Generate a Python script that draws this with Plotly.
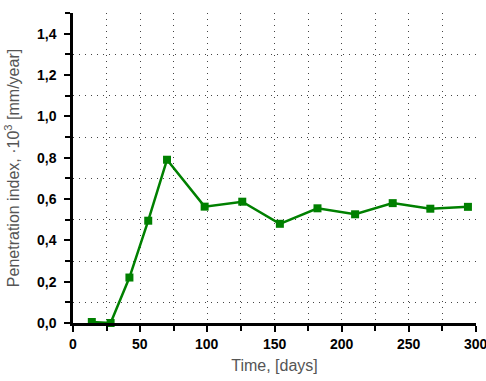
import plotly.graph_objects as go

days = [14, 28, 42, 56, 70, 98, 126, 154, 182, 210, 238, 266, 294]
penetration = [0.005, 0.0, 0.22, 0.495, 0.79, 0.563, 0.587, 0.48, 0.555, 0.526, 0.58, 0.553, 0.562]
x_ticks = [0, 50, 100, 150, 200, 250, 300]

tick_font = dict(family="Liberation Sans Narrow, Arial Narrow, Arial", size=14, color="black", weight="bold")

fig = go.Figure()
fig.add_trace(go.Scatter(
    x=days, y=penetration, mode="lines+markers",
    line=dict(color="#008000", width=2.5),
    marker=dict(symbol="square", size=8, color="#008000"),
    cliponaxis=False,
))

axis_common = dict(
    showline=True, linecolor="black", linewidth=2.5,
    ticks="outside", ticklen=6, tickwidth=2, tickcolor="black",
    showgrid=False, zeroline=False, automargin=False,
    tickfont=tick_font,
    title_font=dict(family="Arial", size=16, color="#555555"),
)

fig.update_xaxes(
    range=[0, 300], tickvals=x_ticks, showticklabels=False,
    minor=dict(tick0=0, dtick=25, ticks="outside", ticklen=5, tickwidth=2, tickcolor="black",
               showgrid=True, gridcolor="#444444", griddash="1px,5px", gridwidth=1),
    title_text="Time, [days]", title_standoff=30,
    **axis_common,
)
fig.update_yaxes(
    range=[0, 1.5], tick0=0, dtick=0.2, tickformat=".1f", ticklabelstandoff=5,
    minor=dict(tick0=0, dtick=0.1, ticks="outside", ticklen=5, tickwidth=2, tickcolor="black",
               showgrid=True, gridcolor="#444444", griddash="1px,5px", gridwidth=1),
    title_text="Penetration index, ·10<sup>3</sup> [mm/year]", title_standoff=14,
    **axis_common,
)

for v in x_ticks:
    fig.add_annotation(x=v, y=0, xref="x", yref="paper", text=str(v), showarrow=False,
                       xanchor="center", yanchor="top", yshift=-11, font=tick_font)

fig.update_layout(
    width=486, height=381,
    margin=dict(l=73, r=10, t=13, b=58),
    paper_bgcolor="white", plot_bgcolor="white",
    separators=",.",
    showlegend=False,
)

fig.write_html("out.html")
